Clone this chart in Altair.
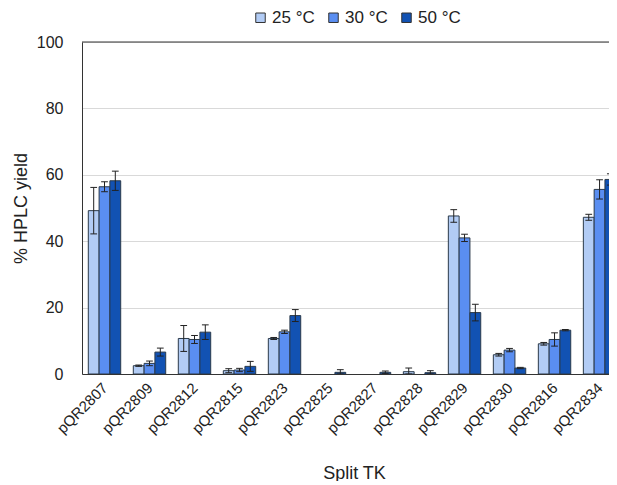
import json
import altair as alt
import pandas as pd

constructs = ["pQR2807", "pQR2809", "pQR2812", "pQR2815", "pQR2823", "pQR2825",
              "pQR2827", "pQR2828", "pQR2829", "pQR2830", "pQR2816", "pQR2834"]
temps = ["25 °C", "30 °C", "50 °C"]
colors = ["#B2CCF5", "#5A8EF1", "#1252B3"]

y25 = [49.2, 2.5, 10.7, 1.0, 10.7, 0.0, 0.0, 0.7, 47.6, 5.8, 9.1, 47.2]
e25 = [7.0, 0.2, 3.9, 0.6, 0.3, 0.0, 0.0, 1.1, 1.9, 0.4, 0.4, 0.9]
y30 = [56.4, 3.2, 10.4, 1.2, 12.7, 0.0, 0.0, 0.0, 41.0, 7.2, 10.4, 55.6]
e30 = [1.5, 0.7, 1.2, 0.5, 0.5, 0.0, 0.0, 0.0, 1.1, 0.5, 2.0, 2.9]
y50 = [58.2, 6.6, 12.6, 2.3, 17.6, 0.5, 0.5, 0.4, 18.5, 1.8, 13.2, 58.6]
e50 = [2.9, 1.2, 2.2, 1.5, 1.8, 0.8, 0.4, 0.6, 2.5, 0.2, 0.2, 1.7]

rows = []
for gi, c in enumerate(constructs):
    for si, (t, vals, errs) in enumerate(zip(temps, [y25, y30, y50], [e25, e30, e50])):
        rows.append(dict(construct=c, gi=gi, si=si, temp=t, value=vals[gi], err=errs[gi]))
df = pd.DataFrame(rows)

FONT = "Liberation Sans"
xscale = alt.Scale(domain=[0, 11.71], nice=False, zero=False)
yscale = alt.Scale(domain=[0, 100], nice=False)

label_expr = json.dumps(constructs) + "[round(datum.value - 0.5)]"
x_axis = alt.Axis(values=[i + 0.5 for i in range(len(constructs))],
                  labelExpr=label_expr, labelAngle=-45, labelAlign="right",
                  labelBaseline="middle", labelOverlap=False, labelBound=False,
                  labelFlush=False,
                  labelFontSize=15, labelFont=FONT, labelColor="#222",
                  labelPadding=11, ticks=False, tickSize=0, grid=False,
                  domain=True, domainColor="#333", domainWidth=1, title="Split TK",
                  titleFont=FONT, titleFontSize=18, titleFontWeight="normal",
                  titleColor="#222", titleX=272, titleY=99,
                  titleAlign="center", titleBaseline="middle")
y_axis = alt.Axis(values=[0, 20, 40, 60, 80, 100], grid=True, gridColor="#d9d9d9",
                  ticks=False, tickSize=0, labelPadding=19,
                  labelFontSize=16, labelFont=FONT, labelColor="#222",
                  domain=True, domainColor="#333", domainWidth=1, title="% HPLC yield",
                  titleFont=FONT, titleFontSize=18, titleFontWeight="normal",
                  titleColor="#222", titleX=-61, titleY=166, titleAngle=-90,
                  titleAlign="center", titleBaseline="middle")

base = alt.Chart(df).transform_calculate(
    x0="datum.gi + 0.14 + datum.si * 0.24",
    x1="datum.gi + 0.14 + (datum.si + 1) * 0.24",
    xc="datum.gi + 0.14 + (datum.si + 0.5) * 0.24",
    cl="datum.gi + 0.14 + (datum.si + 0.5) * 0.24 - 0.075",
    cr="datum.gi + 0.14 + (datum.si + 0.5) * 0.24 + 0.075",
    lo="max(0, datum.value - datum.err)",
    hi="datum.value + datum.err",
    zero="0",
)

bars = base.transform_filter("datum.value > 0").mark_bar(
    stroke="#2b3a4a", strokeWidth=1, clip=True
).encode(
    x=alt.X("x0:Q", scale=xscale, axis=x_axis),
    x2="x1:Q",
    y=alt.Y("value:Q", scale=yscale, axis=y_axis),
    y2="zero:Q",
    color=alt.Color("temp:N", scale=alt.Scale(domain=temps, range=colors),
                    legend=alt.Legend(orient="none", legendX=170, legendY=-33,
                                      direction="horizontal", title=None,
                                      symbolType="square", symbolSize=90,
                                      symbolStrokeColor="#333", symbolStrokeWidth=1,
                                      labelFontSize=17, labelFont=FONT, labelColor="#222",
                                      columnPadding=10, labelOffset=3, padding=0)),
)

err_rule = base.transform_filter("datum.err > 0").mark_rule(
    color="#222", strokeWidth=1, clip=True
).encode(
    x=alt.X("xc:Q", scale=xscale, axis=x_axis),
    y=alt.Y("lo:Q", scale=yscale, axis=y_axis),
    y2="hi:Q",
)

cap_hi = base.transform_filter("datum.err > 0").mark_rule(
    color="#222", strokeWidth=1, clip=True
).encode(
    x=alt.X("cl:Q", scale=xscale, axis=x_axis),
    x2="cr:Q",
    y=alt.Y("hi:Q", scale=yscale, axis=y_axis),
)
cap_lo = base.transform_filter("datum.err > 0").mark_rule(
    color="#222", strokeWidth=1, clip=True
).encode(
    x=alt.X("cl:Q", scale=xscale, axis=x_axis),
    x2="cr:Q",
    y=alt.Y("lo:Q", scale=yscale, axis=y_axis),
)

top = alt.Chart(pd.DataFrame({"top": [100]})).mark_rule(color="#333", strokeWidth=1).encode(
    y=alt.Y("top:Q", scale=yscale, axis=y_axis)
)

chart = alt.layer(bars, err_rule, cap_hi, cap_lo, top).properties(
    width=527, height=332,
    autosize=alt.AutoSizeParams(type="none"),
    padding={"left": 74, "top": 34, "right": 0, "bottom": 107},
).configure_view(stroke=None).configure(background="white")

chart.save("out.html", embed_options={"renderer": "svg", "actions": False})
